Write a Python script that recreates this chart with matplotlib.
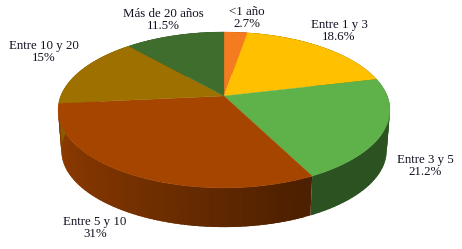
# -*- coding: utf-8 -*-
"""Torta 3D de antiguedad, dibujada a mano con poligonos (perspectiva simple)"""
import numpy as np
import matplotlib
matplotlib.use('Agg')
import matplotlib.pyplot as plt
from matplotlib.patches import Polygon
from matplotlib.colors import to_rgb

plt.rcParams['font.family'] = ['Liberation Serif', 'DejaVu Serif']

# Datos
categories = ['<1 año', 'Entre 1 y 3', 'Entre 3 y 5', 'Entre 5 y 10', 'Entre 10 y 20', 'Más de 20 años']
values = [2.7, 18.6, 21.2, 31, 15, 11.5]
value_labels = ['2.7%', '18.6%', '21.2%', '31%', '15%', '11.5%']
colors = ['#F47B20', '#FFC000', '#5FB24A', '#A64500', '#9E7000', '#3F6D2E']
label_x = [247, 339, 425, 95, 44, 163]
label_y = [18, 31, 166, 228, 52, 20]

# Geometria en pixeles
cx, cy = 224, 96
A, B, k = 163.3, 75.5, 0.179
s_base, d_base = 0.98, 41


def top_point(theta):
    u, v = np.sin(theta), np.cos(theta)
    w = 1 + k * v
    return cx + A * u / w, cy - B * v / w


def base_point(theta):
    x, y = top_point(theta)
    return cx + (x - cx) * s_base, cy + (y - cy) * s_base + d_base


fig = plt.figure(figsize=(4.62, 2.49), dpi=100)
ax = fig.add_axes([0, 0, 1, 1])
ax.set_xlim(0, 462)
ax.set_ylim(249, 0)
ax.axis('off')

edges = np.radians(np.concatenate([[0], np.cumsum(values)]) * 3.6)

# Costado: primero una silueta suave por cuna, luego tiras con el tono
for i, col in enumerate(colors):
    th = np.linspace(edges[i], edges[i + 1], max(int((edges[i + 1] - edges[i]) * 30), 2))
    for t0, t1 in zip(th[:-1], th[1:]):
        u = np.sin((t0 + t1) / 2)
        f = max(0.46, 0.57 - 0.28 * u)
        shade = tuple(c * f for c in to_rgb(col))
        # la tira se solapa con la siguiente para que no queden rayas
        t2 = min(t1 + 0.03, edges[i + 1])
        quad = [top_point(t0), top_point(t2), base_point(t2), base_point(t0)]
        ax.add_patch(Polygon(quad, closed=True, facecolor=shade, edgecolor='none'))

# Cara superior
for i, col in enumerate(colors):
    th = np.linspace(edges[i], edges[i + 1], 80)
    px, py = top_point(th)
    pts = np.column_stack([np.r_[cx, px], np.r_[cy, py]])
    ax.add_patch(Polygon(pts, closed=True, facecolor=col, edgecolor=col, linewidth=0.2))

# Etiquetas
for name, val, x, y in zip(categories, value_labels, label_x, label_y):
    ax.text(x, y, name + '\n' + val, ha='center', va='center', fontsize=9.3,
            color='#111122', linespacing=1.1)

plt.savefig('out.png', dpi=100, facecolor='white')
plt.close()
